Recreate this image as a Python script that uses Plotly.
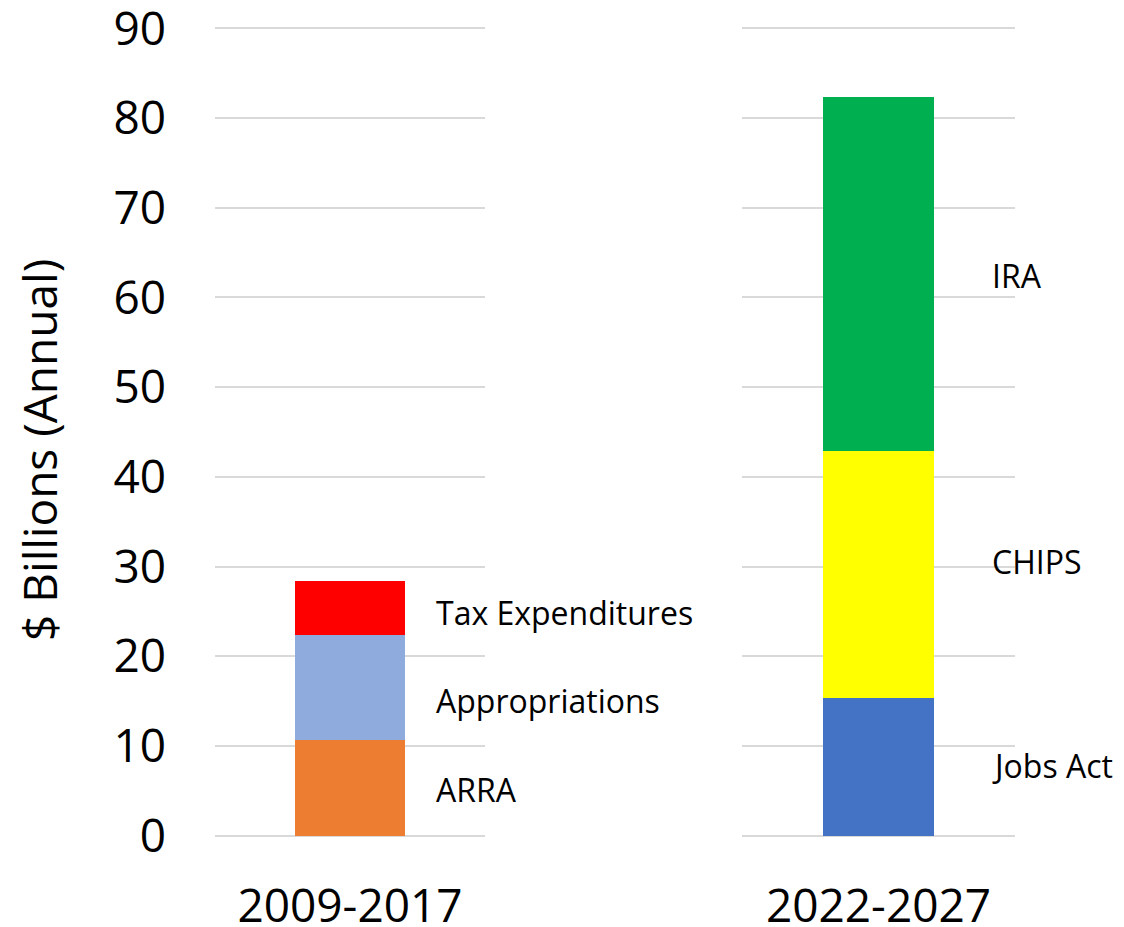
import plotly.graph_objects as go

# Periods shown on the x axis
periods = ["2009-2017", "2022-2027"]

# 2009-2017 funding components ($ billions, annual)
early_names = ["ARRA", "Appropriations", "Tax Expenditures"]
early_values = [10.6, 11.8, 6.0]
early_colors = ["#ED7D31", "#8FAADC", "#FF0000"]

# 2022-2027 funding components ($ billions, annual)
late_names = ["Jobs Act", "CHIPS", "IRA"]
late_values = [15.3, 27.6, 39.5]
late_colors = ["#4472C4", "#FFFF00", "#00B050"]

# Vertical placement of the side labels (in axis units)
early_label_y = [5.1, 15.1, 24.9]
late_label_y = [7.8, 30.6, 62.5]

y_ticks = [0, 10, 20, 30, 40, 50, 60, 70, 80, 90]

FONT = "Open Sans"

fig = go.Figure()

for name, val, col in zip(early_names, early_values, early_colors):
    fig.add_trace(go.Bar(x=[periods[0]], y=[val], name=name, marker_color=col,
                         marker_line_width=0, xaxis="x", yaxis="y"))
for name, val, col in zip(late_names, late_values, late_colors):
    fig.add_trace(go.Bar(x=[periods[1]], y=[val], name=name, marker_color=col,
                         marker_line_width=0, xaxis="x2", yaxis="y2"))

annotations = []
for name, yv in zip(early_names, early_label_y):
    annotations.append(dict(x=0.5, xref="x domain", y=yv, yref="y", text=name,
                            showarrow=False, xanchor="left", yanchor="middle",
                            xshift=84, font=dict(family=FONT, size=32, color="black")))
for name, yv in zip(late_names, late_label_y):
    annotations.append(dict(x=0.5, xref="x2 domain", y=yv, yref="y2", text=name,
                            showarrow=False, xanchor="left", yanchor="middle",
                            xshift=111, font=dict(family=FONT, size=32, color="black")))
annotations.append(dict(x=-0.22, xref="paper", y=0.478, yref="paper",
                        text="$ Billions (Annual)", textangle=-90, showarrow=False,
                        xanchor="center", yanchor="middle",
                        font=dict(family=FONT, size=46, color="black")))

grid = dict(showgrid=True, gridcolor="#D9D9D9", gridwidth=2, zeroline=False,
            range=[-0.5, 90.5], tickvals=y_ticks, showline=False, ticks="",
            automargin=False)

fig.update_layout(
    barmode="stack",
    bargap=0.595,
    width=1124,
    height=927,
    margin=dict(l=215, r=109, t=24, b=87),
    paper_bgcolor="white",
    plot_bgcolor="white",
    showlegend=False,
    font=dict(family=FONT, color="black"),
    xaxis=dict(domain=[0, 0.3375], anchor="y", showgrid=False, showline=False,
               ticks="", tickfont=dict(size=46), ticklabelstandoff=35,
               automargin=False),
    xaxis2=dict(domain=[0.65875, 1], anchor="y2", showgrid=False, showline=False,
                ticks="", tickfont=dict(size=46), ticklabelstandoff=35,
                automargin=False),
    yaxis=dict(anchor="x", tickfont=dict(size=46), ticklabelstandoff=48,
               ticklabeloverflow="allow", **grid),
    yaxis2=dict(anchor="x2", matches="y", showticklabels=False, **grid),
    annotations=annotations,
)

fig.write_html("out.html")
